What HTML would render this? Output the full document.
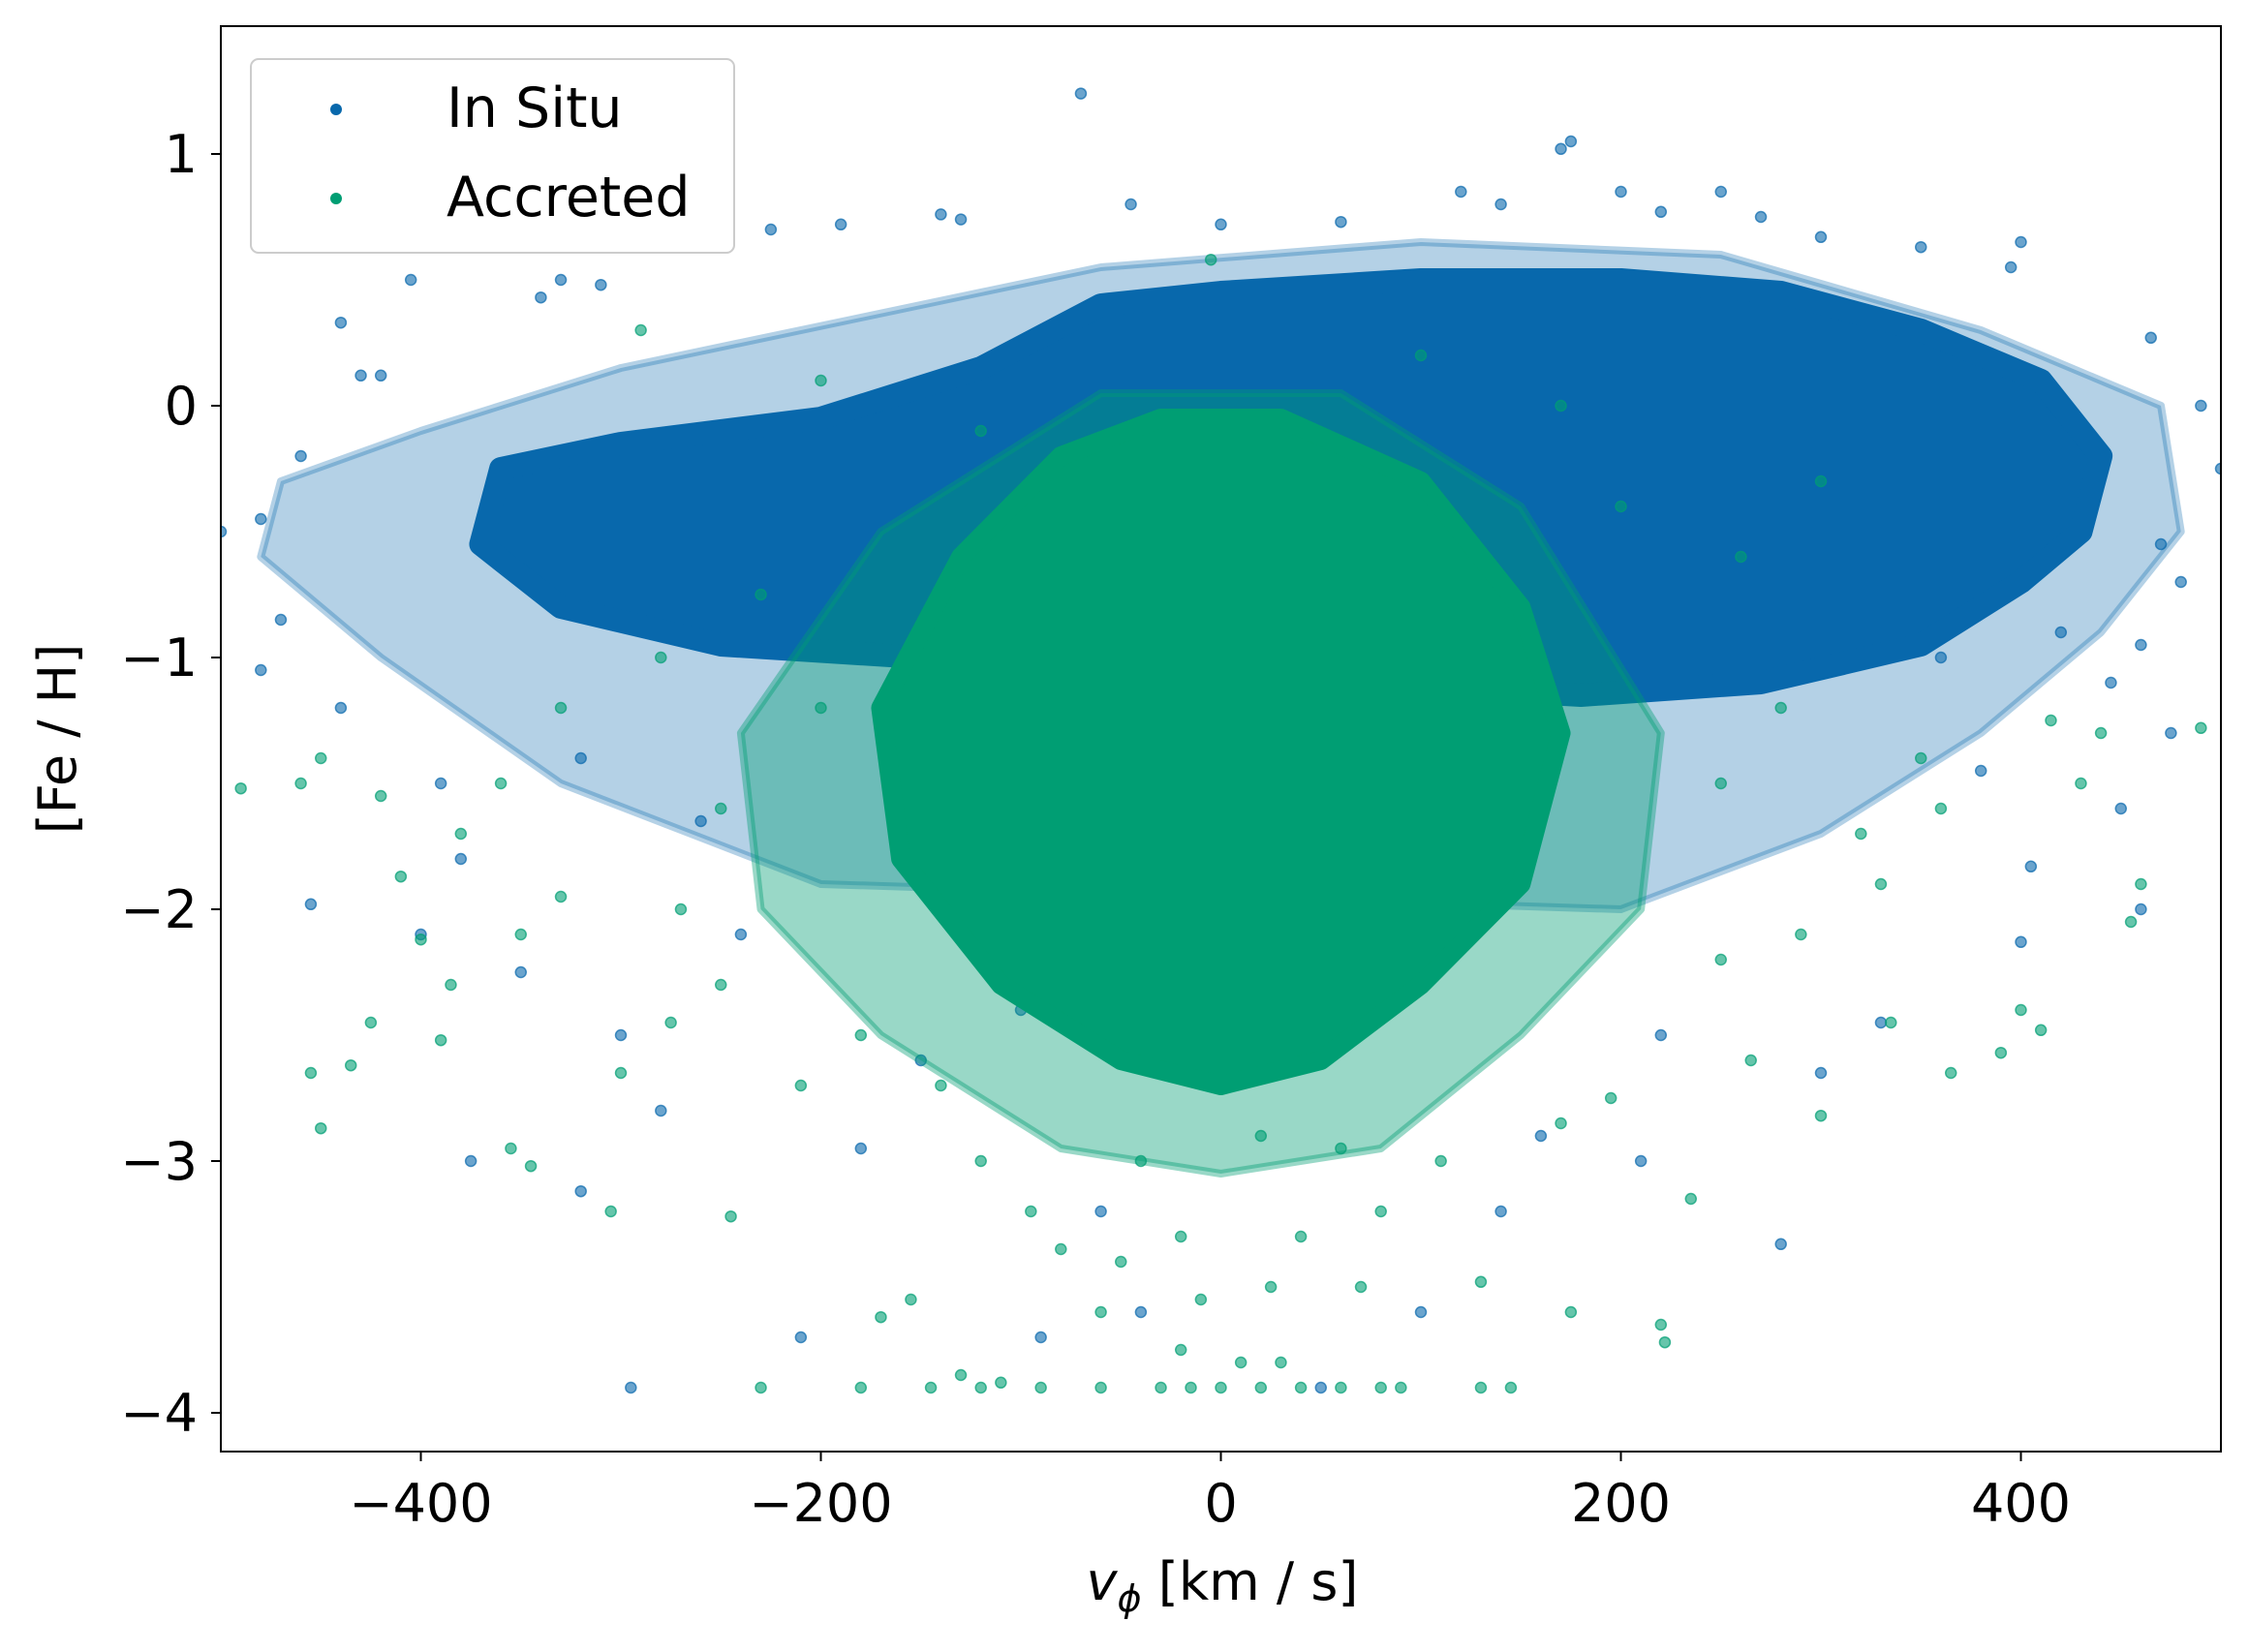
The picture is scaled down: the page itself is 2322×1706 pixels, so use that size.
<!DOCTYPE html>
<html><head><meta charset="utf-8">
<style>
html,body{margin:0;padding:0;background:#fff;}
svg{display:block;font-family:"DejaVu Sans","Liberation Sans",sans-serif;}
</style></head>
<body>
<svg id="chart" width="2322" height="1706" viewBox="0 0 2322 1706" xmlns="http://www.w3.org/2000/svg">
<rect width="2322" height="1706" fill="#fff"/>
<defs><clipPath id="clip"><rect x="228" y="27" width="2065" height="1472"/></clipPath></defs>
<g id="plot" clip-path="url(#clip)"></g>
<rect x="228" y="27" width="2065" height="1472" fill="none" stroke="#000" stroke-width="2"/>
<g id="axes"></g>
<text x="78" y="763" font-size="54" text-anchor="middle" transform="rotate(-90 78 763)">[Fe / H]</text>
<text x="1262" y="1652" font-size="54" text-anchor="middle"><tspan font-style="italic">v</tspan><tspan font-style="italic" font-size="38" dy="12">ϕ</tspan><tspan dy="-12"> [km / s]</tspan></text>
<g>
<rect x="259" y="61" width="499" height="200" rx="8" fill="#fff" fill-opacity="0.8" stroke="#ccc" stroke-width="2"/>
<circle cx="347" cy="113" r="6" fill="#0868ac"/>
<text x="461" y="131" font-size="57">In Situ</text>
<circle cx="347" cy="205" r="6" fill="#009e73"/>
<text x="461" y="223" font-size="57">Accreted</text>
</g>
</svg>
<script>
const xTicks=[-400,-200,0,200,400];
const yTicks=[1,0,-1,-2,-3,-4];
const blueHalo=[[-470,-0.3],[-400,-0.1],[-300,0.15],[-180,0.35],[-60,0.55],[100,0.65],[250,0.6],[380,0.3],[470,0.0],[480,-0.5],[440,-0.9],[380,-1.3],[300,-1.7],[200,-2.0],[-200,-1.9],[-330,-1.5],[-420,-1.0],[-480,-0.6]];
const blueCore=[[-360,-0.25],[-300,-0.15],[-200,-0.05],[-120,0.15],[-60,0.4],[0,0.45],[100,0.5],[200,0.5],[280,0.45],[350,0.3],[410,0.1],[440,-0.2],[430,-0.5],[400,-0.7],[350,-0.95],[270,-1.1],[180,-1.15],[-150,-1.0],[-250,-0.95],[-330,-0.8],[-370,-0.55]];
const greenHalo=[[-60,0.05],[60,0.05],[150,-0.4],[220,-1.3],[210,-2.0],[150,-2.5],[80,-2.95],[0,-3.05],[-80,-2.95],[-170,-2.5],[-230,-2.0],[-240,-1.3],[-170,-0.5]];
const greenCore=[[-30,-0.05],[30,-0.05],[100,-0.3],[150,-0.8],[170,-1.3],[150,-1.9],[100,-2.3],[50,-2.6],[0,-2.7],[-50,-2.6],[-110,-2.3],[-160,-1.8],[-170,-1.2],[-130,-0.6],[-80,-0.2]];
const blueX=[-70,175,170,-405,-340,-330,-310,-440,-420,-430,-460,-480,-500,-470,-480,-455,-375,-320,-295,-210,-240,-400,-300,-350,-280,-140,-130,-190,-225,-45,0,60,120,140,200,250,220,270,300,350,395,400,465,490,500,470,480,460,445,475,450,405,460,400,330,300,280,210,140,100,50,-90,-40,-60,160,220,-150,-100,-180,380,420,360,-390,-440,-380,-260,-320];
const blueY=[1.24,1.05,1.02,0.5,0.43,0.5,0.48,0.33,0.12,0.12,-0.2,-0.45,-0.5,-0.85,-1.05,-1.98,-3.0,-3.12,-3.9,-3.7,-2.1,-2.1,-2.5,-2.25,-2.8,0.76,0.74,0.72,0.7,0.8,0.72,0.73,0.85,0.8,0.85,0.85,0.77,0.75,0.67,0.63,0.55,0.65,0.27,0.0,-0.25,-0.55,-0.7,-0.95,-1.1,-1.3,-1.6,-1.83,-2.0,-2.13,-2.45,-2.65,-3.33,-3.0,-3.2,-3.6,-3.9,-3.7,-3.6,-3.2,-2.9,-2.5,-2.6,-2.4,-2.95,-1.45,-0.9,-1.0,-1.5,-1.2,-1.8,-1.65,-1.4];
const greenX=[-490,-455,-450,-435,-425,-400,-390,-385,-355,-345,-305,-300,-275,-245,-230,-180,-170,-155,-145,-130,-120,-110,-90,-60,-30,-15,0,20,40,60,80,90,130,145,-20,10,30,-60,-10,25,70,130,175,220,222,235,265,300,335,365,390,400,410,460,455,490,440,430,415,-450,-420,-410,-460,-380,-330,-350,-270,-250,-210,-180,-140,-120,-95,-80,-50,-20,40,80,110,170,195,250,290,330,360,-230,-280,-330,-360,200,260,300,-200,-290,350,320,-120,100,170,-200,-250,250,280,20,-40,60,-5];
const greenY=[-1.52,-2.65,-2.87,-2.62,-2.45,-2.12,-2.52,-2.3,-2.95,-3.02,-3.2,-2.65,-2.45,-3.22,-3.9,-3.9,-3.62,-3.55,-3.9,-3.85,-3.9,-3.88,-3.9,-3.9,-3.9,-3.9,-3.9,-3.9,-3.9,-3.9,-3.9,-3.9,-3.9,-3.9,-3.75,-3.8,-3.8,-3.6,-3.55,-3.5,-3.5,-3.48,-3.6,-3.65,-3.72,-3.15,-2.6,-2.82,-2.45,-2.65,-2.57,-2.4,-2.48,-1.9,-2.05,-1.28,-1.3,-1.5,-1.25,-1.4,-1.55,-1.87,-1.5,-1.7,-1.95,-2.1,-2.0,-2.3,-2.7,-2.5,-2.7,-3.0,-3.2,-3.35,-3.4,-3.3,-3.3,-3.2,-3.0,-2.85,-2.75,-2.2,-2.1,-1.9,-1.6,-0.75,-1.0,-1.2,-1.5,-0.4,-0.6,-0.3,0.1,0.3,-1.4,-1.7,-0.1,0.2,0.0,-1.2,-1.6,-1.5,-1.2,-2.9,-3.0,-2.95,0.58];

const NS='http://www.w3.org/2000/svg';
const X0=228,X1=2293,Y0=27,Y1=1499;
const xs=v=>X0+(v+500)/1000*(X1-X0);
const ys=v=>419-v*260;
const plot=document.getElementById('plot'),axes=document.getElementById('axes');
function mk(tag,attrs,parent){const e=document.createElementNS(NS,tag);for(const k in attrs)e.setAttribute(k,attrs[k]);parent.appendChild(e);return e;}
function poly(pts,color,op,sw,name){
  const e=mk('polygon',{points:pts.map(p=>xs(p[0])+','+ys(p[1])).join(' '),fill:color,'fill-opacity':op,stroke:color,'stroke-opacity':op,'stroke-width':sw,'stroke-linejoin':'round'},plot);
  
  
}
function pts(xa,ya,color,name){
  for(let i=0;i<xa.length;i++){
    const c=mk('circle',{cx:xs(xa[i]),cy:ys(ya[i]),r:5.5,fill:color,'fill-opacity':0.6,stroke:color,'stroke-opacity':0.7,'stroke-width':1.5},plot);
    
    
  }
}
poly(blueHalo,'#0868ac',0.3,8,'in-situ-halo');
pts(blueX,blueY,'#0868ac','in-situ-point');
poly(blueCore,'#0868ac',1,24,'in-situ-core');
poly(greenHalo,'#009e73',0.4,8,'accreted-halo');
pts(greenX,greenY,'#009e73','accreted-point');
poly(greenCore,'#009e73',1,20,'accreted-core');

xTicks.forEach(t=>{
  const l=mk('line',{x1:xs(t),x2:xs(t),y1:Y1,y2:Y1+10,stroke:'#000','stroke-width':2},axes);
  
  
  const tx=mk('text',{x:xs(t),y:Y1+72,'font-size':54,'text-anchor':'middle'},axes);
  tx.textContent=t<0?'\u2212'+Math.abs(t):String(t);
  
  
});
yTicks.forEach(t=>{
  const l=mk('line',{x1:X0-10,x2:X0,y1:ys(t),y2:ys(t),stroke:'#000','stroke-width':2},axes);
  
  
  const tx=mk('text',{x:X0-24,y:ys(t)+19,'font-size':54,'text-anchor':'end'},axes);
  tx.textContent=t<0?'\u2212'+Math.abs(t):String(t);
  
  
});
</script>
</body></html>
